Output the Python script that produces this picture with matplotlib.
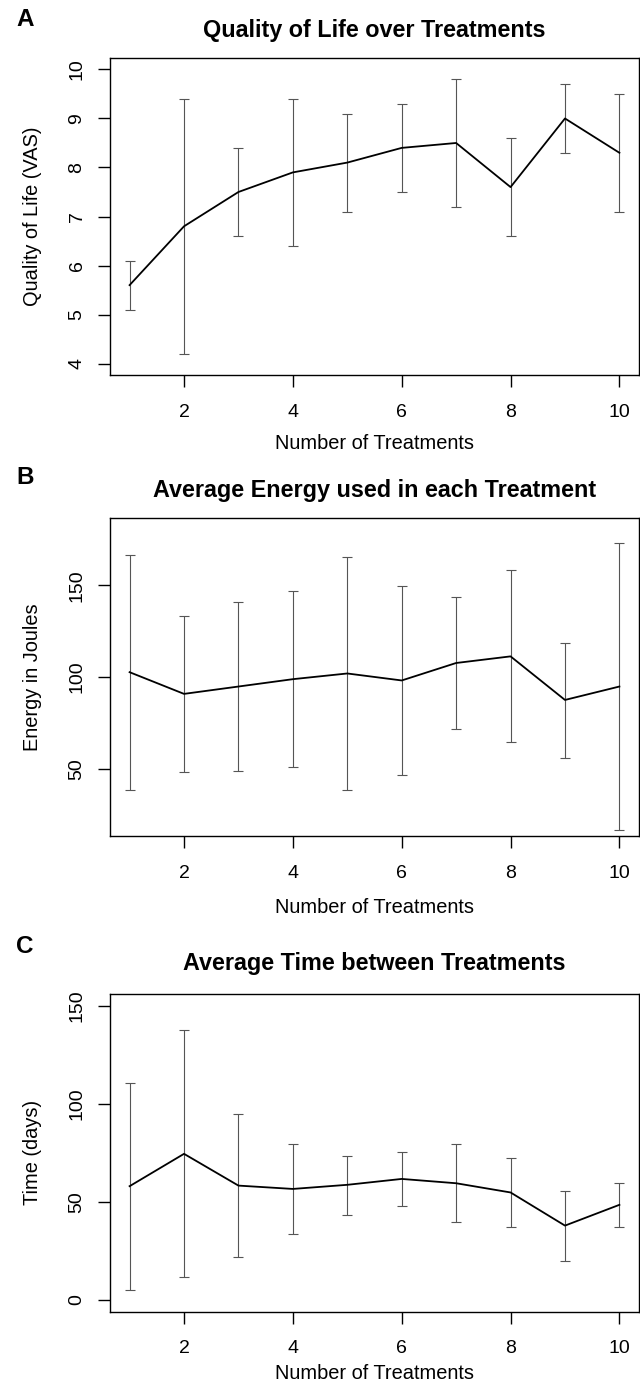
import matplotlib
matplotlib.use("Agg")
import matplotlib.pyplot as plt

plt.rcParams['font.family'] = ['Liberation Sans', 'DejaVu Sans']

treatments = [1, 2, 3, 4, 5, 6, 7, 8, 9, 10]
x_ticks = [2, 4, 6, 8, 10]

qol_mean = [5.6, 6.8, 7.5, 7.9, 8.1, 8.4, 8.5, 7.6, 9.0, 8.3]
qol_upper = [6.1, 9.4, 8.4, 9.4, 9.1, 9.3, 9.8, 8.6, 9.7, 9.5]
qol_lower = [5.1, 4.2, 6.6, 6.4, 7.1, 7.5, 7.2, 6.6, 8.3, 7.1]
qol_ticks = [4, 5, 6, 7, 8, 9, 10]

energy_mean = [102.7, 90.9, 94.9, 98.9, 102.0, 98.2, 107.7, 111.3, 87.6, 94.9]
energy_upper = [166.7, 133.3, 141.0, 146.6, 165.2, 149.5, 143.5, 158.1, 118.8, 173.2]
energy_lower = [38.6, 48.5, 49.2, 51.4, 38.6, 47.0, 71.9, 64.8, 56.1, 16.9]
energy_ticks = [50, 100, 150]

time_mean = [58.0, 74.5, 58.3, 56.6, 58.7, 61.7, 59.5, 54.8, 37.9, 48.5]
time_upper = [110.5, 137.6, 94.7, 79.3, 73.5, 75.2, 79.4, 72.3, 55.4, 59.7]
time_lower = [5.3, 11.7, 22.1, 33.7, 43.5, 48.1, 39.6, 37.2, 19.9, 37.1]
time_ticks = [0, 50, 100, 150]

fig = plt.figure(figsize=(6.4, 13.9), dpi=100)

W, H = 640.0, 1390.0
left = 110 / W
width = 529 / W

panels = [
    dict(letter="A", title="Quality of Life over Treatments", ylabel="Quality of Life (VAS)",
         mean=qol_mean, up=qol_upper, lo=qol_lower, yticks=qol_ticks, ylim=(4, 10),
         top=57.7, bottom=375.3, letter_base=26, title_pad=15, xlabelpad=9.5),
    dict(letter="B", title="Average Energy used in each Treatment", ylabel="Energy in Joules",
         mean=energy_mean, up=energy_upper, lo=energy_lower, yticks=energy_ticks, ylim=(20, 180),
         top=518.3, bottom=836.0, letter_base=484, title_pad=15.5, xlabelpad=11.8),
    dict(letter="C", title="Average Time between Treatments", ylabel="Time (days)",
         mean=time_mean, up=time_upper, lo=time_lower, yticks=time_ticks, ylim=(0, 150),
         top=994.0, bottom=1311.7, letter_base=953, title_pad=17, xlabelpad=4.5),
]

for p in panels:
    ax = fig.add_axes([left, 1 - p['bottom'] / H, width, (p['bottom'] - p['top']) / H])
    yerr = [[m - l for m, l in zip(p['mean'], p['lo'])],
            [u - m for m, u in zip(p['mean'], p['up'])]]
    ax.errorbar(treatments, p['mean'], yerr=yerr, fmt='none', ecolor='#555555',
                elinewidth=0.8, capsize=3.4, capthick=0.8, zorder=2)
    ax.plot(treatments, p['mean'], color='black', lw=1.3, zorder=3)
    lo_, hi_ = p['ylim']
    ext = (hi_ - lo_) * 0.04
    ax.set_ylim(lo_ - ext, hi_ + ext)
    ax.set_xlim(1 - 9 * 0.04, 10 + 9 * 0.04)
    ax.set_xticks(x_ticks)
    ax.set_yticks(p['yticks'])
    ax.tick_params(axis='both', length=8.6, width=1.0, labelsize=14, color='black')
    ax.tick_params(axis='x', pad=12)
    ax.tick_params(axis='y', pad=9)
    for lab in ax.get_yticklabels():
        lab.set_rotation(90)
        lab.set_va('center')
    for s in ax.spines.values():
        s.set_linewidth(1.0)
        s.set_color('black')
    ax.set_title(p['title'], fontsize=16.8, fontweight='bold', pad=p['title_pad'])
    ax.set_xlabel("Number of Treatments", fontsize=14.4, labelpad=p['xlabelpad'])
    ax.set_ylabel(p['ylabel'], fontsize=14.4, labelpad=19)
    fig.text(16 / W, 1 - p['letter_base'] / H, p['letter'], fontsize=17.5,
             fontweight='bold', ha='left', va='baseline')

fig.savefig("out.png", dpi=100)
